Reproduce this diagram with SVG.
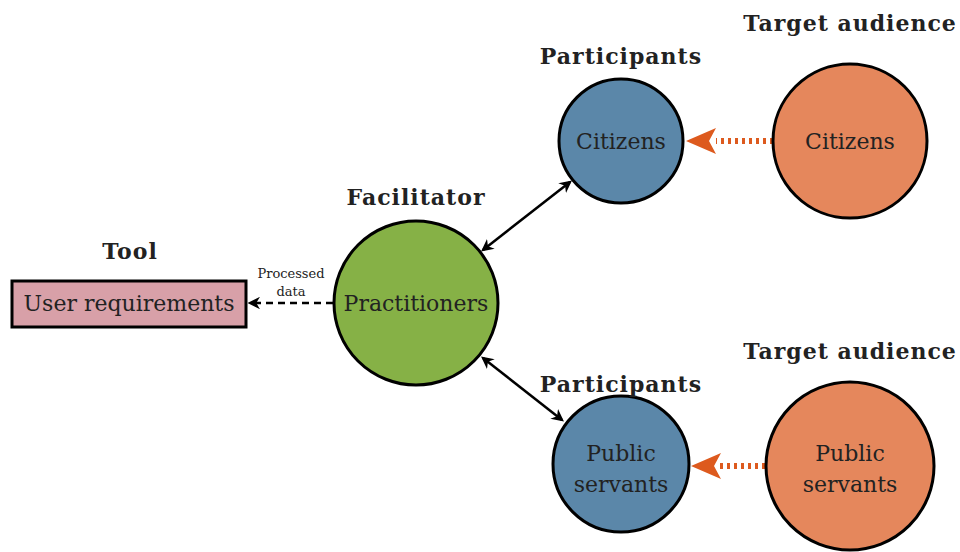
<svg xmlns="http://www.w3.org/2000/svg" width="960" height="552" viewBox="0 0 960 552">
<defs>
<style>
text{font-family:"DejaVu Serif","Liberation Serif",serif;fill:#222;text-anchor:middle}
.t{font-size:22px}
.h{font-size:22px;font-weight:bold;letter-spacing:1px}
.s{font-size:13px}
.n{stroke:#000;stroke-width:3}
.blk{stroke:#000;stroke-width:2.5;fill:none}
.dot{stroke:#dd5a1e;stroke-width:6;stroke-dasharray:3 4;fill:none}
</style>
<marker id="ab" viewBox="0 0 10 10" refX="8" refY="5" markerWidth="5" markerHeight="5" orient="auto-start-reverse" markerUnits="strokeWidth"><path d="M0,0 L10,5 L0,10 L3,5 Z" fill="#000"/></marker>
</defs>
<g id="connectors">
<path class="blk" d="M333,303 L250,303" stroke-dasharray="7 5" marker-end="url(#ab)"/>
<text class="s" x="291" y="278">Processed</text>
<text class="s" x="291" y="296">data</text>
<path class="blk" d="M483,250 L570,182" marker-start="url(#ab)" marker-end="url(#ab)"/>
<path class="blk" d="M483,358 L562,420" marker-start="url(#ab)" marker-end="url(#ab)"/>
<path class="dot" d="M773,141 L716,141"/>
<path d="M686,141 L716,128 L709,141 L716,154 Z" fill="#dd5a1e"/>
<path class="dot" d="M765,466 L720,466"/>
<path d="M691,466 L721,453 L714,466 L721,479 Z" fill="#dd5a1e"/>
</g>
<g id="tool">
<rect class="n" x="12" y="281" width="234" height="46" fill="#d8a0a8"/>
<text class="t" x="129" y="311">User requirements</text>
<text class="h" x="130" y="259">Tool</text>
</g>
<g id="facilitator">
<circle class="n" cx="416" cy="303" r="82" fill="#86b146"/>
<text class="t" x="416" y="311">Practitioners</text>
<text class="h" x="416" y="205">Facilitator</text>
</g>
<g id="citizens-p">
<circle class="n" cx="621" cy="141" r="62" fill="#5b87a9"/>
<text class="t" x="621" y="149">Citizens</text>
<text class="h" x="621" y="64">Participants</text>
</g>
<g id="citizens-t">
<circle class="n" cx="850" cy="141" r="77" fill="#e5875c"/>
<text class="t" x="850" y="149">Citizens</text>
<text class="h" x="850" y="31">Target audience</text>
</g>
<g id="servants-p">
<circle class="n" cx="621" cy="464" r="68" fill="#5b87a9"/>
<text class="t" x="621" y="461">Public</text>
<text class="t" x="621" y="492">servants</text>
<text class="h" x="621" y="392">Participants</text>
</g>
<g id="servants-t">
<circle class="n" cx="850" cy="466" r="84" fill="#e5875c"/>
<text class="t" x="850" y="461">Public</text>
<text class="t" x="850" y="492">servants</text>
<text class="h" x="850" y="359">Target audience</text>
</g>
</svg>
